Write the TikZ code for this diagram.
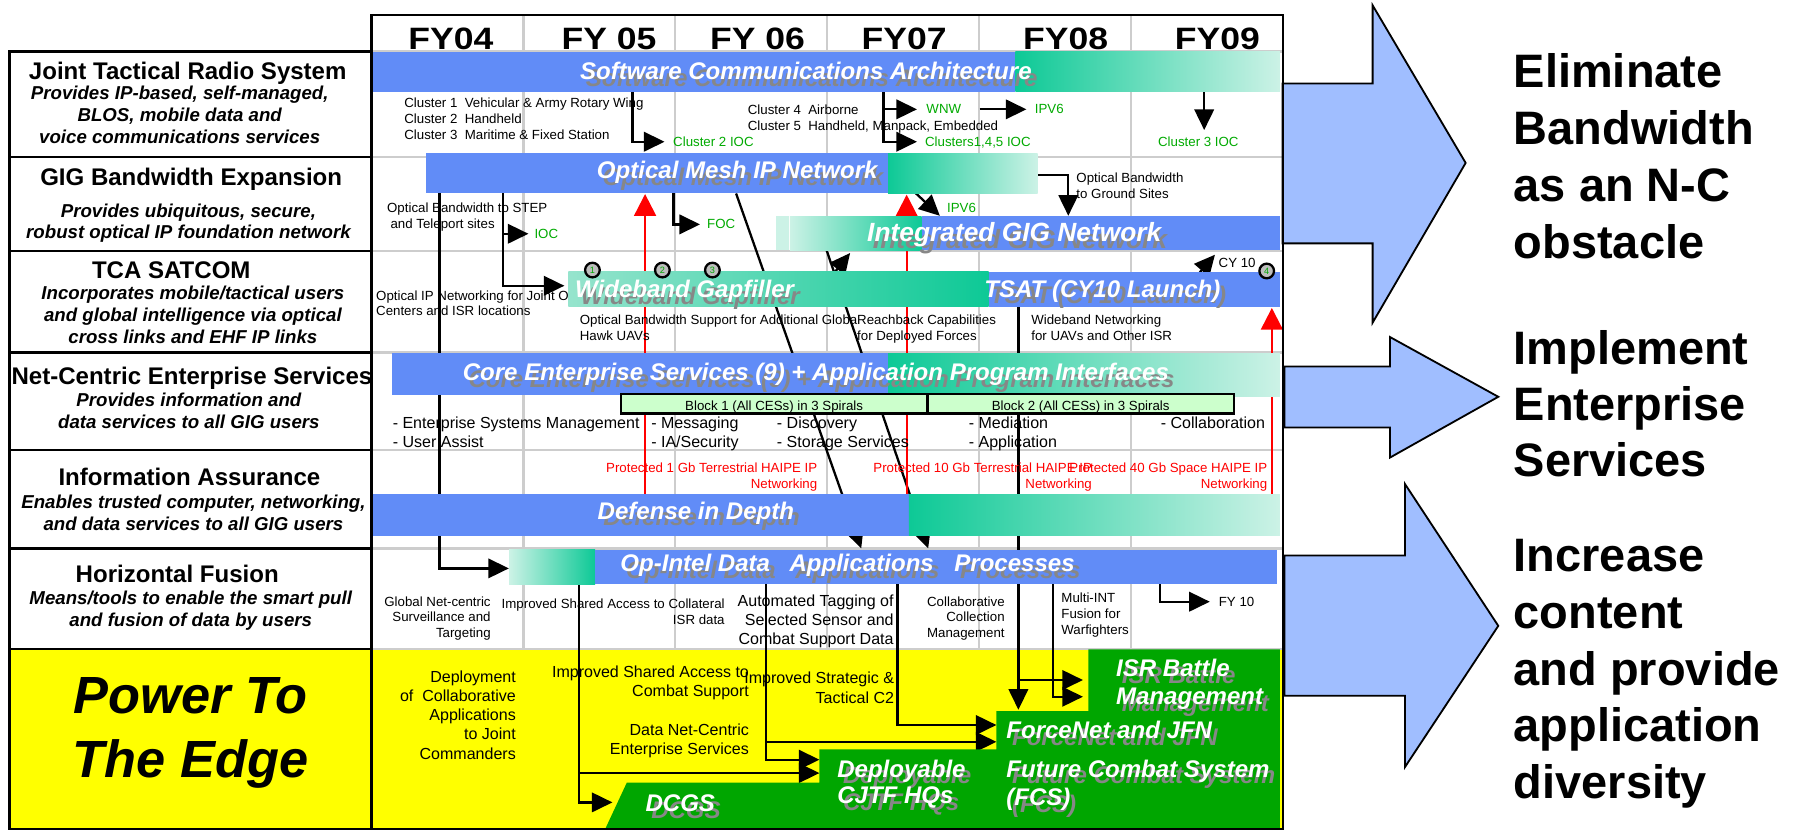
\documentclass[tikz,border=0pt]{standalone}
\usepackage{fontspec}
\setmainfont{Liberation Sans}
\usetikzlibrary{arrows.meta}
\definecolor{barblue}{RGB}{97,140,247}
\definecolor{teal1}{RGB}{13,201,150}
\definecolor{pale}{RGB}{204,242,230}
\definecolor{lteal}{RGB}{150,228,205}
\definecolor{gridgray}{RGB}{205,205,205}
\definecolor{pyellow}{RGB}{255,255,0}
\definecolor{pgreen}{RGB}{0,166,0}
\definecolor{blockgreen}{RGB}{204,255,204}
\definecolor{arrowblue}{RGB}{160,190,255}
\definecolor{txtgreen}{RGB}{0,170,0}
\definecolor{shadowgray}{RGB}{135,135,135}
\definecolor{circgray}{RGB}{190,190,190}
\newcommand\ml[2]{\begin{tabular}[t]{@{}#1@{}}#2\end{tabular}}
\newcommand\shtext[1]{\rlap{\kern2.5pt\smash{\raisebox{-2.9pt}{\color{shadowgray}#1}}}{\color{white}#1}}
\tikzset{
 arr/.style={-{Triangle[length=9pt,width=8.5pt]}, line width=1pt, black},
 rarr/.style={-{Triangle[length=9.5pt,width=9.5pt]}, line width=1pt, red},
 blk/.style={line width=1pt, black},
 gridln/.style={line width=1pt, gridgray},
 txs/.style={inner sep=0, font=\fontsize{5.8}{6.9}\selectfont},
 txm/.style={inner sep=0, font=\fontsize{7}{8.3}\selectfont},
 txp/.style={inner sep=0, font=\fontsize{7}{8.4}\selectfont},
 txg/.style={inner sep=0, font=\fontsize{5.8}{6.9}\selectfont, text=txtgreen},
 txr/.style={inner sep=0, font=\fontsize{5.8}{7}\selectfont, text=red},
 txbar/.style={inner sep=0, font=\fontsize{10.5}{12.4}\selectfont\bfseries\itshape},
 txttl/.style={inner sep=0, font=\fontsize{10.5}{12}\selectfont\bfseries},
 txsub/.style={inner sep=0, font=\fontsize{8.15}{9.5}\selectfont\bfseries\itshape},
 txfy/.style={inner sep=0, font=\fontsize{13.5}{15}\selectfont\bfseries},
 txgoal/.style={inner sep=0, font=\fontsize{20.5}{25}\selectfont\bfseries},
 txbig/.style={inner sep=0, font=\fontsize{22.85}{28}\selectfont\bfseries\itshape},
 numc/.style={circle, draw=black, line width=1pt, fill=circgray, inner sep=0, minimum size=6.4pt, font=\fontsize{4}{4}\selectfont, text=txtgreen},
 blockbox/.style={draw=black, line width=1.2pt, fill=blockgreen},
 bigarrow/.style={draw=black, line width=0.8pt, fill=arrowblue}
}
\begin{document}
\begin{tikzpicture}[x=0.5pt,y=-0.5pt]
\useasboundingbox (0,0) rectangle (1568,725);
\fill[white] (0,0) rectangle (1568,725);
\fill[pyellow] (8.4,567) rectangle (1120.5,724.5);
% grid
\foreach \y in {45,137,219,308,393,479,567} \draw[gridln] (324.5,\y) -- (1120.5,\y);
\foreach \x in {457.2,589.8,722.5,855.2,987.8} \draw[gridln] (\x,13) -- (\x,567);
% year labels
\node[txfy, anchor=base] (fy04) at (393.8,43.1) {\scalebox{1.15}[1]{FY04}};
\node[txfy, anchor=base] (fy05) at (532,43.1) {\scalebox{1.15}[1]{FY 05}};
\node[txfy, anchor=base] (fy06) at (661.7,43.1) {\scalebox{1.15}[1]{FY 06}};
\node[txfy, anchor=base] (fy07) at (789.8,43.1) {\scalebox{1.15}[1]{FY07}};
\node[txfy, anchor=base] (fy08) at (930.8,43.1) {\scalebox{1.15}[1]{FY08}};
\node[txfy, anchor=base] (fy09) at (1063.4,43.1) {\scalebox{1.15}[1]{FY09}};
% right block arrows
\draw[bigarrow] (1120.4,73) -- (1199,73) -- (1199,4.6) -- (1280.3,142.3) -- (1199,281.9) -- (1199,212.6) -- (1120.4,212.6) -- cycle;
\draw[bigarrow] (1121.9,320.2) -- (1214.2,320.2) -- (1214.2,294.4) -- (1308.8,346.6) -- (1214.2,399.7) -- (1214.2,373.4) -- (1121.9,373.4) -- cycle;
\draw[bigarrow] (1121.9,485.2) -- (1227.3,485.2) -- (1227.3,422.8) -- (1308.8,546.7) -- (1227.3,670) -- (1227.3,607.7) -- (1121.9,607.7) -- cycle;
\node[txgoal, anchor=base west] (goal1) at (1322,76.2) {\ml{l}{Eliminate\\Bandwidth\\as an N-C\\obstacle}};
\node[txgoal, anchor=base west, font=\fontsize{20.5}{24.25}\selectfont\bfseries] (goal2) at (1322,318.8) {\ml{l}{Implement\\Enterprise\\Services}};
\node[txgoal, anchor=base west, font=\fontsize{20.5}{24.85}\selectfont\bfseries] (goal3) at (1322,499) {\ml{l}{Increase\\content\\and provide\\application\\diversity}};
% ---------- connectors ----------
\coordinate (c2s) at (552.6,80); \coordinate (c2e) at (580.5,123.8);
\draw[arr] (c2s) |- (c2e);
\coordinate (wns) at (771.8,80); \coordinate (wne) at (801,95.5); \coordinate (c145e) at (801,123.8);
\draw[arr] (wns) |- (wne);
\draw[arr] (wns) |- (c145e);
\coordinate (ip6s) at (855.7,95.5); \coordinate (ip6e) at (896.6,95.5);
\draw[arr] (ip6s) -- (ip6e);
\coordinate (c3s) at (1051.9,80); \coordinate (c3e) at (1051.9,113.6);
\draw[arr] (c3s) -- (c3e);
\coordinate (l1s) at (384,169); \coordinate (l1e) at (444.5,496.5);
\draw[arr] (l1s) |- (l1e);
\coordinate (l2s) at (439.1,169); \coordinate (l2e) at (493,249.6);
\draw[arr] (l2s) |- (l2e);
\coordinate (l2b) at (439.1,204.2); \coordinate (ioce) at (461.6,204.2);
\draw[arr] (l2b) -- (ioce);
\coordinate (focs) at (588.2,169); \coordinate (foce) at (611.5,196);
\draw[arr] (focs) |- (foce);
\coordinate (ip6ds) at (797,166); \coordinate (ip6de) at (821,188.5);
\draw[arr] (ip6ds) -- (ip6de);
\coordinate (gss) at (906.4,152.9); \coordinate (gse) at (933.2,188.5);
\draw[arr] (gss) -| (gse);
\coordinate (d1s) at (643,169); \coordinate (d1e) at (752.3,479);
\draw[arr] (d1s) -- (d1e);
\coordinate (d2s) at (722,218.4); \coordinate (d2e) at (810.8,479);
\draw[arr] (d2s) -- (d2e);
\coordinate (u1s) at (729,238); \coordinate (u1e) at (742.6,221);
\draw[arr] (u1s) -- (u1e);
\coordinate (u2s) at (1048,238); \coordinate (u2e) at (1061.3,222.5);
\draw[arr] (u2s) -- (u2e);
\coordinate (v1s) at (889.6,268); \coordinate (v1e) at (889.6,620);
\draw[arr] (v1s) -- (v1e);
\coordinate (v1b) at (889.6,594); \coordinate (isr1) at (946,594);
\draw[arr] (v1b) -- (isr1);
\coordinate (fy10s) at (1013.2,510.4); \coordinate (fy10e) at (1056.8,525.6);
\draw[arr] (fy10s) |- (fy10e);
\coordinate (p1s) at (505.8,510.4); \coordinate (p1e) at (535,700.9);
\draw[arr] (p1s) |- (p1e);
\coordinate (p1b) at (505.8,675.3); \coordinate (dep1) at (715.8,675.3);
\draw[arr] (p1b) -- (dep1);
\coordinate (p2s) at (669.2,510.4); \coordinate (p2e) at (715.8,663.6);
\draw[arr] (p2s) |- (p2e);
\coordinate (p2b) at (669.2,648); \coordinate (fn2) at (870.4,648);
\draw[arr] (p2b) -- (fn2);
\coordinate (p3s) at (784,510.4); \coordinate (fn1) at (870.4,633.3);
\draw[arr] (p3s) |- (fn1);
\coordinate (p5s) at (919.6,510.4); \coordinate (isr2) at (946,608.6);
\draw[arr] (p5s) |- (isr2);
\coordinate (r1s) at (563.5,431.6); \coordinate (r1e) at (563.5,169.5);
\draw[rarr] (r1s) -- (r1e);
\coordinate (r2s) at (792,431.6); \coordinate (r2e) at (792,170);
\draw[rarr] (r2s) -- (r2e);
\coordinate (r3s) at (1111,431.6); \coordinate (r3e) at (1111,269);
\draw[rarr] (r3s) -- (r3e);
% text partly hidden by a bar
\node[txs, anchor=base west] (oipn) at (328.2,262.1) {\ml{l}{Optical IP Networking for Joint O\\Centers and ISR locations}};
% ---------- bars ----------
\fill[barblue] (324.5,45) rectangle (887,80);
\shade[left color=teal1,right color=pale] (887,45) rectangle (1118,80);
\node[txbar, anchor=base] (sca) at (704,69.6) {\shtext{Software Communications Architecture}};
\fill[barblue] (372.2,134) rectangle (775.7,169);
\shade[left color=teal1,right color=pale] (775.7,134) rectangle (906.4,169);
\node[txbar, anchor=base] (omesh) at (644,156) {\shtext{Optical Mesh IP Network}};
\fill[pale] (678.2,188.7) rectangle (689,218.4);
\shade[left color=pale,right color=teal1] (690,188.7) rectangle (805,218.4);
\fill[barblue] (805,188.7) rectangle (1118,218.4);
\node[txbar, anchor=base, font=\fontsize{11.5}{13}\selectfont\bfseries\itshape] (igig) at (886,211) {\shtext{Integrated GIG Network}};
\shade[left color=lteal,right color=teal1] (496.5,237.3) rectangle (863.5,268);
\fill[barblue] (863.5,237.3) rectangle (1118,268);
\node[txbar, anchor=base] (wbg) at (598,260) {\shtext{Wideband Gapfiller}};
\node[txbar, anchor=base] (tsat) at (963,259.5) {\shtext{TSAT (CY10 Launch)}};
\fill[barblue] (342.2,308.7) rectangle (775.7,345.1);
\shade[left color=teal1,right color=pale] (775.7,308.7) rectangle (1118,346);
\node[txbar, anchor=base] (ces) at (712.7,332.6) {\shtext{Core Enterprise Services (9) + Application Program Interfaces}};
\draw[blockbox] (542.5,344.1) rectangle (810,361);
\draw[blockbox] (810,344.1) rectangle (1077.9,361);
\node[txs, anchor=base] (b1t) at (676.25,358.8) {Block 1 (All CESs) in 3 Spirals};
\node[txs, anchor=base] (b2t) at (944,358.8) {Block 2 (All CESs) in 3 Spirals};
\fill[barblue] (324.7,431.6) rectangle (794,468);
\shade[left color=teal1,right color=pale] (794,431.6) rectangle (1118,468);
\node[txbar, anchor=base] (did) at (607.9,453.4) {\shtext{Defense in Depth}};
\shade[left color=pale,right color=teal1] (444.7,480.4) rectangle (519.8,510.4);
\fill[barblue] (519.8,480.4) rectangle (1115.5,510.4);
\node[txbar, anchor=base west] (opd) at (541.6,499.5) {\shtext{Op-Intel Data}};
\node[txbar, anchor=base west] (apps) at (689.3,499.5) {\shtext{Applications}};
\node[txbar, anchor=base west] (procs) at (833.3,499.5) {\shtext{Processes}};
\fill[pgreen] (547.5,683.7) -- (715.8,683.7) -- (715.8,654.6) -- (870.4,654.6) -- (870.4,621.1) -- (950.7,621.1) -- (950.7,567.2) -- (1118,567.2) -- (1118,724.5) -- (528.5,724.5) -- cycle;
\node[txbar, anchor=base west] (isr) at (974.6,591) {\ml{l}{\shtext{ISR Battle}\\\shtext{Management}}};
\node[txbar, anchor=base west] (fnet) at (878.7,645) {\shtext{ForceNet and JFN}};
\node[txbar, anchor=base west, font=\fontsize{10.5}{12.3}\selectfont\bfseries\itshape] (fcs) at (878.7,679) {\ml{l}{\shtext{Future Combat System}\\\shtext{(FCS)}}};
\node[txbar, anchor=base west, font=\fontsize{10.5}{11.4}\selectfont\bfseries\itshape] (dcjtf) at (731,679) {\ml{l}{\shtext{Deployable}\\\shtext{CJTF HQs}}};
\node[txbar, anchor=base west] (dcgs) at (563.5,709) {\shtext{DCGS}};
% circles
\node[numc] (n1) at (517.5,235.9) {1};
\node[numc] (n2) at (578.6,235.9) {2};
\node[numc] (n3) at (622.3,235.9) {3};
\node[numc] (n4) at (1106.5,236.7) {4};
% ---------- plain texts ----------
\node[txg, anchor=base west] (c2ioc) at (587.7,127.8) {Cluster 2 IOC};
\node[txg, anchor=base west] (wnw) at (808.9,99.5) {WNW};
\node[txg, anchor=base west] (c145) at (807.7,127.8) {Clusters1,4,5 IOC};
\node[txg, anchor=base west] (ipv6a) at (903.6,99.5) {IPV6};
\node[txg, anchor=base] (c3ioc) at (1046.8,127.8) {Cluster 3 IOC};
\node[txs, anchor=base west] (cl13) at (352.8,94.3) {\ml{l}{Cluster 1\ \ Vehicular \& Army Rotary Wing\\Cluster 2\ \ Handheld\\Cluster 3\ \ Maritime \& Fixed Station}};
\node[txs, anchor=base west] (cl45) at (652.9,100.1) {\ml{l}{Cluster 4\ \ Airborne\\Cluster 5\ \ Handheld, Manpack, Embedded}};
\node[txs, anchor=base west] (steptxt) at (337.8,185.4) {\ml{l}{Optical Bandwidth to STEP\\\hspace{1.5pt}and Teleport sites}};
\node[txg, anchor=base west] (ioc) at (466.5,208.2) {IOC};
\node[txg, anchor=base west] (foc) at (617.4,200) {FOC};
\node[txg, anchor=base west] (ipv6b) at (827,185.2) {IPV6};
\node[txs, anchor=base west] (gstxt) at (939.9,159.8) {\ml{l}{Optical Bandwidth\\to Ground Sites}};
\node[txs, anchor=base west] (cy10) at (1064.2,233.3) {CY 10};
\node[txs, anchor=base west] (obsup) at (506.1,283.3) {\ml{l}{Optical Bandwidth Support for Additional Globa\\Hawk UAVs}};
\node[txs, anchor=base west] (reach) at (748.4,283.3) {\ml{l}{Reachback Capabilities\\for Deployed Forces}};
\node[txs, anchor=base west] (wbn) at (900.5,283.3) {\ml{l}{Wideband Networking\\for UAVs and Other ISR}};
\node[txm, anchor=base west] (esm) at (342.7,373.9) {\ml{l}{- Enterprise Systems Management\\- User Assist}};
\node[txm, anchor=base west] (msg) at (568.5,373.9) {\ml{l}{- Messaging\\- IA/Security}};
\node[txm, anchor=base west] (disc) at (678.3,373.9) {\ml{l}{- Discovery\\- Storage Services}};
\node[txm, anchor=base west] (med) at (845.9,373.9) {\ml{l}{- Mediation\\- Application}};
\node[txm, anchor=base west] (coll) at (1013.6,373.9) {- Collaboration};
\node[txr, anchor=base east] (p1gb) at (714.3,412.3) {\ml{r}{Protected 1 Gb Terrestrial HAIPE IP\\Networking}};
\node[txr, anchor=base east] (p10gb) at (954.2,412.3) {\ml{r}{Protected 10 Gb Terrestrial HAIPE IP\\Networking}};
\node[txr, anchor=base east] (p40gb) at (1107.4,412.3) {\ml{r}{Protected 40 Gb Space HAIPE IP\\Networking}};
\node[txs, anchor=base east] (gns) at (429,529.4) {\ml{r}{Global Net-centric\\Surveillance and\\Targeting}};
\node[txs, anchor=base east] (isa) at (633.4,531.7) {\ml{r}{Improved Shared Access to Collateral\\ISR data}};
\node[txm, anchor=base east] (atag) at (781,529.9) {\ml{r}{Automated Tagging of\\Selected Sensor and\\Combat Support Data}};
\node[txs, anchor=base east] (ccm) at (878,529.4) {\ml{r}{Collaborative\\Collection\\Management}};
\node[txs, anchor=base west] (mint) at (926.8,526.5) {\ml{l}{Multi-INT\\Fusion for\\Warfighters}};
\node[txs, anchor=base west] (fy10) at (1064.3,529.4) {FY 10};
\node[txp, anchor=base east] (dep) at (451,596) {\ml{r}{Deployment\\of\ \ Collaborative\\Applications\\to Joint\\Commanders}};
\node[txp, anchor=base east] (isac) at (654.6,591.6) {\ml{r}{Improved Shared Access to\\Combat Support}};
\node[txp, anchor=base east] (dnc) at (654.6,642.6) {\ml{r}{Data Net-Centric\\Enterprise Services}};
\node[txp, anchor=base east] (isc2) at (781.4,597.4) {\ml{r}{Improved Strategic \&\\Tactical C2}};
% ---------- left column ----------
\draw[blk] (8.4,45) rectangle (324.5,724.5);
\foreach \y in {137,219,308,393,479,567} \draw[blk] (8.4,\y) -- (324.5,\y);
\draw[blk] (324.5,13) rectangle (1120.5,724.5);
\node[txttl, anchor=base] (jtrs) at (164,69.5) {Joint Tactical Radio System};
\node[txsub, anchor=base] (jtrsd) at (157,87.2) {\ml{c}{Provides IP-based, self-managed,\\BLOS, mobile data and\\voice communications services}};
\node[txttl, anchor=base] (gigbe) at (167,161.6) {GIG Bandwidth Expansion};
\node[txsub, anchor=base] (gigbed) at (164.6,189.7) {\ml{c}{Provides ubiquitous, secure,\\robust optical IP foundation network}};
\node[txttl, anchor=base] (tca) at (149.6,243.7) {TCA SATCOM};
\node[txsub, anchor=base] (tcad) at (168.5,261.9) {\ml{c}{Incorporates mobile/tactical users\\and global intelligence via optical\\cross links and EHF IP links}};
\node[txttl, anchor=base] (nces) at (167.7,335.7) {Net-Centric Enterprise Services};
\node[txsub, anchor=base] (ncesd) at (165,355.1) {\ml{c}{Provides information and\\data services to all GIG users}};
\node[txttl, anchor=base] (ia) at (165.5,424.3) {Information Assurance};
\node[txsub, anchor=base] (iad) at (169,444.5) {\ml{c}{Enables trusted computer, networking,\\and data services to all GIG users}};
\node[txttl, anchor=base] (hf) at (154.8,508.7) {Horizontal Fusion};
\node[txsub, anchor=base] (hfd) at (166.6,528.4) {\ml{c}{Means/tools to enable the smart pull\\and fusion of data by users}};
\node[txbig, anchor=base] (ptte) at (166.6,623.1) {\ml{c}{Power To\\The Edge}};
\end{tikzpicture}
\end{document}
